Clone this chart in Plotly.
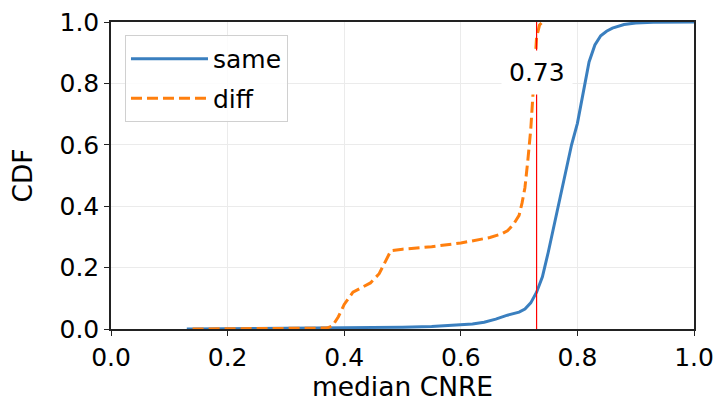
import plotly.graph_objects as go

# CDF of median CNRE, "same" group
same_x = [0.13, 0.20, 0.30, 0.40, 0.45, 0.50, 0.55, 0.60, 0.62, 0.64, 0.66, 0.68,
          0.70, 0.71, 0.72, 0.73, 0.74, 0.75, 0.76, 0.77, 0.78, 0.79, 0.80, 0.81,
          0.82, 0.83, 0.84, 0.85, 0.86, 0.88, 0.90, 0.93, 0.96, 1.00]
same_y = [0.0, 0.001, 0.002, 0.003, 0.004, 0.006, 0.008, 0.012, 0.016, 0.022, 0.032, 0.045,
          0.055, 0.065, 0.085, 0.12, 0.17, 0.25, 0.34, 0.43, 0.52, 0.60, 0.67, 0.77,
          0.87, 0.925, 0.955, 0.97, 0.98, 0.992, 0.997, 0.999, 1.0, 1.0]

# CDF of median CNRE, "diff" group
diff_x = [0.14, 0.30, 0.37, 0.38, 0.39, 0.40, 0.415, 0.43, 0.445, 0.46, 0.47, 0.48,
          0.50, 0.55, 0.60, 0.63, 0.65, 0.67, 0.68, 0.69, 0.70, 0.705, 0.71, 0.715,
          0.72, 0.725, 0.73, 0.735, 0.74]
diff_y = [0.0, 0.001, 0.003, 0.01, 0.04, 0.08, 0.12, 0.135, 0.15, 0.18, 0.22, 0.255,
          0.26, 0.268, 0.28, 0.29, 0.298, 0.31, 0.32, 0.34, 0.37, 0.41, 0.46, 0.55,
          0.65, 0.80, 0.95, 0.99, 1.0]

threshold = 0.73
ticks = [0.0, 0.2, 0.4, 0.6, 0.8, 1.0]
tick_text = ["0.0", "0.2", "0.4", "0.6", "0.8", "1.0"]

FONT = "DejaVu Sans"
FS = 25
TITLE_FS = 26.5

fig = go.Figure()
fig.add_trace(go.Scatter(x=same_x, y=same_y, mode="lines", name="same", legendgroup="same",
                         line=dict(color="#3a7fbf", width=3)))
fig.add_trace(go.Scatter(x=diff_x, y=diff_y, mode="lines", name="diff", legendgroup="diff",
                         line=dict(color="#ff7f0e", width=3, dash="11px,5px")))

# vertical marker at the threshold, with its value boxed in white
fig.add_shape(type="line", x0=threshold, x1=threshold, y0=0, y1=1,
              xref="x", yref="y", layer="above", line=dict(color="#ff0000", width=1.2))
fig.add_annotation(x=threshold, y=0.837, text=f"{threshold:.2f}", showarrow=False,
                   font=dict(family=FONT, size=FS, color="black"),
                   bgcolor="white", borderpad=7)

axis_common = dict(
    range=[0, 1], tickvals=ticks, ticktext=tick_text,
    showgrid=True, gridcolor="#ebebeb", gridwidth=1,
    showline=True, linecolor="#222", linewidth=1.5, mirror=True,
    ticks="outside", ticklen=5, tickwidth=1.2, tickcolor="#222",
    tickfont=dict(family=FONT, size=FS, color="black"),
    zeroline=False, automargin=False,
)
fig.update_xaxes(**axis_common, title=dict(text="median CNRE", standoff=8,
                                           font=dict(family=FONT, size=TITLE_FS, color="black")))
fig.update_yaxes(**axis_common, title=dict(text="CDF", standoff=19,
                                           font=dict(family=FONT, size=TITLE_FS, color="black")))

fig.update_layout(
    width=719, height=402,
    margin=dict(l=111, r=25, t=22, b=73),
    paper_bgcolor="white", plot_bgcolor="white",
    showlegend=True,
    legend=dict(x=0.024, y=0.958, xanchor="left", yanchor="top",
                bgcolor="rgba(255,255,255,0.85)", bordercolor="#d0d0d0", borderwidth=1,
                font=dict(family=FONT, size=FS, color="black"),
                itemwidth=77, tracegroupgap=4),
)

fig.write_html("out.html")
